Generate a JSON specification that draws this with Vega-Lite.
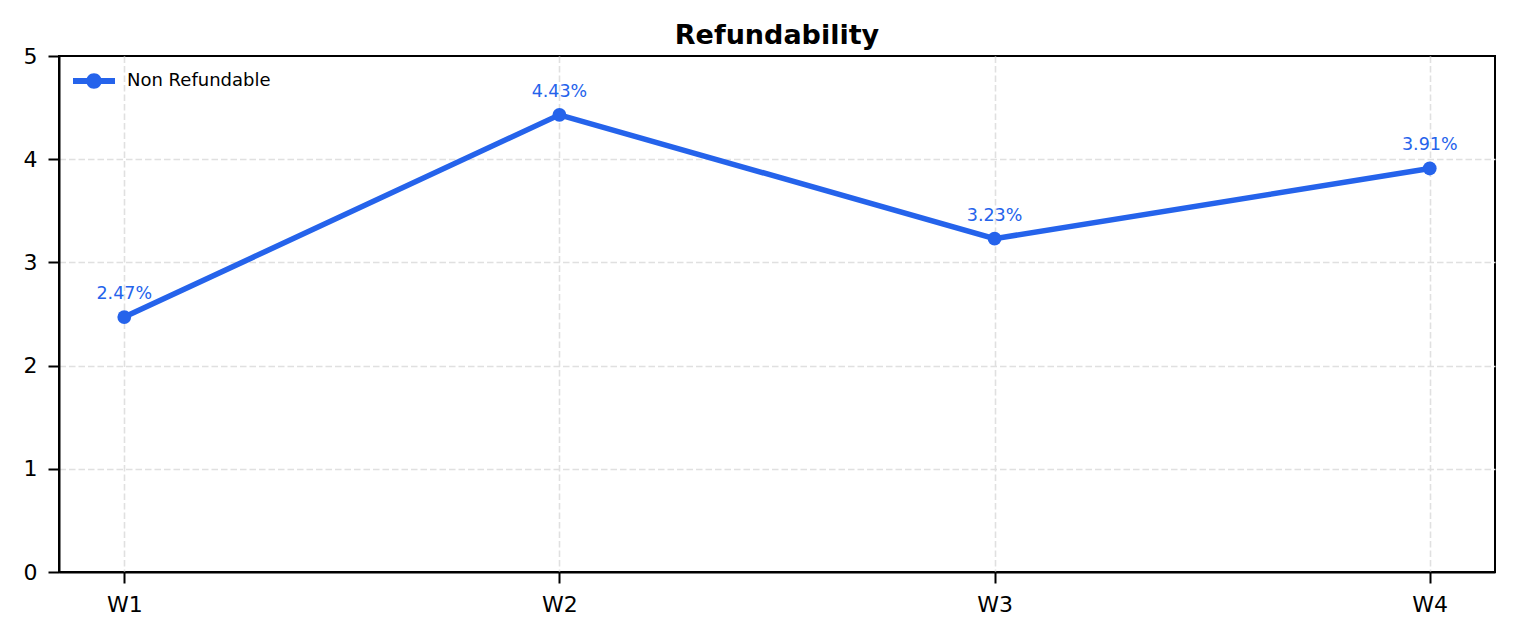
{
  "$schema": "https://vega.github.io/schema/vega-lite/v6.json",
  "width": 1436,
  "height": 516,
  "autosize": {"type": "none"},
  "padding": {"left": 59, "top": 56, "right": 22, "bottom": 68},
  "background": "white",
  "title": {"text": "Refundability", "fontSize": 27, "fontWeight": "bold", "font": "DejaVu Sans", "color": "black", "anchor": "middle", "offset": -5},
  "config": {
    "view": {"stroke": "black", "strokeWidth": 2},
    "font": "DejaVu Sans",
    "axis": {
      "domainColor": "black", "domainWidth": 2,
      "tickColor": "black", "tickWidth": 2, "tickSize": 11,
      "labelFont": "DejaVu Sans", "labelFontSize": 22, "labelColor": "black",
      "gridDash": [6.5, 3], "gridWidth": 1.6
    }
  },
  "data": {"values": [
    {"week": "W1", "value": 2.47, "label": "2.47%", "series": "Non Refundable"},
    {"week": "W2", "value": 4.43, "label": "4.43%", "series": "Non Refundable"},
    {"week": "W3", "value": 3.23, "label": "3.23%", "series": "Non Refundable"},
    {"week": "W4", "value": 3.91, "label": "3.91%", "series": "Non Refundable"}
  ]},
  "encoding": {
    "x": {"field": "week", "type": "ordinal", "scale": {"type": "point", "padding": 0.15},
      "axis": {"title": null, "labelAngle": 0, "labelPadding": 11, "grid": true, "gridColor": "#e0e0e0"}},
    "y": {"field": "value", "type": "quantitative", "scale": {"domain": [0, 5], "nice": false},
      "axis": {"title": null, "values": [0, 1, 2, 3, 4, 5], "labelPadding": 11, "grid": true,
        "gridColor": {"condition": {"test": "datum.value >= 5 || datum.value <= 0", "value": "transparent"}, "value": "#e0e0e0"}}}
  },
  "layer": [
    {
      "mark": {"type": "line", "strokeWidth": 5.5, "color": "#2563eb"},
      "encoding": {
        "color": {"field": "series", "type": "nominal", "scale": {"range": ["#2563eb"]},
          "legend": {"title": null, "orient": "none", "legendX": 14, "legendY": 4, "padding": 0,
            "symbolType": "M-1,-0.143L1,-0.143L1,0.143L-1,0.143Z M0.37,0A0.37,0.37,0,1,1,-0.37,0A0.37,0.37,0,1,1,0.37,0Z",
            "symbolSize": 1764, "symbolFillColor": "#2563eb", "symbolStrokeWidth": 0, "symbolOpacity": 1,
            "labelFontSize": 18, "labelFont": "DejaVu Sans", "labelColor": "black", "labelOffset": 12}}
      }
    },
    {
      "mark": {"type": "point", "filled": true, "size": 190, "color": "#2563eb", "opacity": 1}
    },
    {
      "mark": {"type": "text", "dy": -23, "baseline": "middle", "fontSize": 17.5, "color": "#2563eb", "font": "DejaVu Sans"},
      "encoding": {"text": {"field": "label", "type": "nominal"}}
    }
  ]
}
